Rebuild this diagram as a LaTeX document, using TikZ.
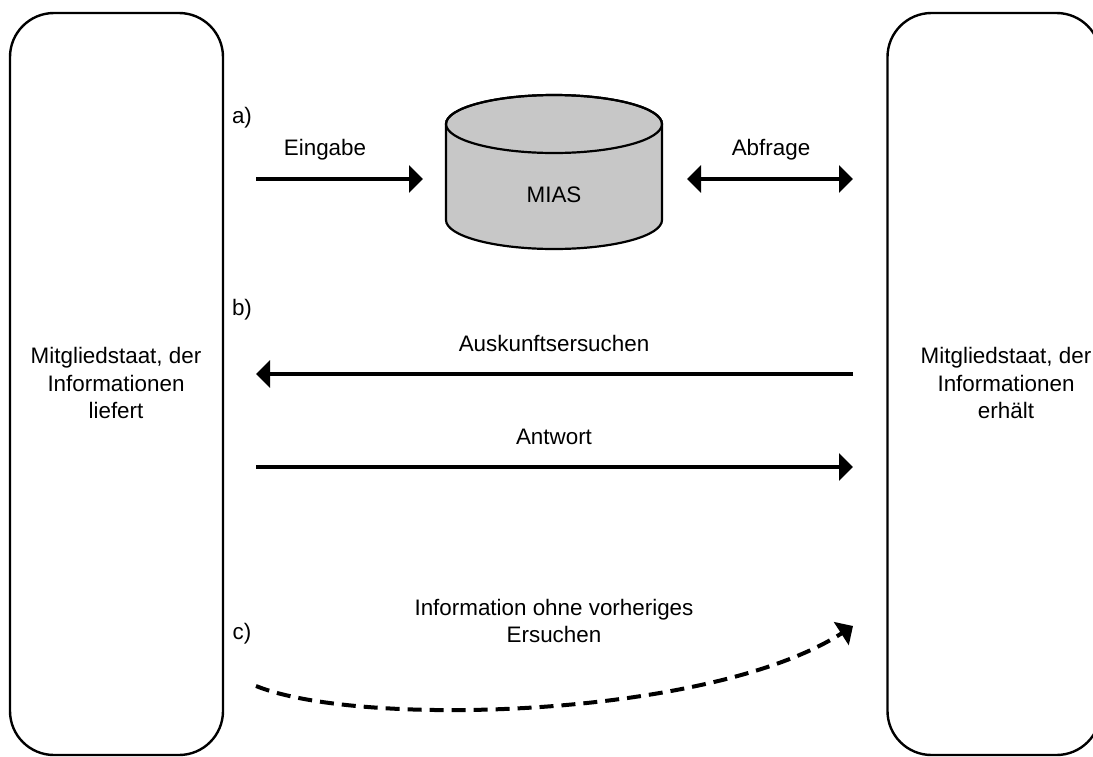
\documentclass[tikz,border=0pt]{standalone}
\usepackage{fontspec}
\setmainfont{Liberation Sans}
\usetikzlibrary{arrows.meta}
\begin{document}
\begin{tikzpicture}[x=0.5pt,y=-0.5pt,
  lbl/.style={font=\fontsize{11.2}{13.75}\selectfont, inner sep=0pt, align=center},
  party/.style={draw, line width=1.2pt, rounded corners=22pt, minimum width=106.5pt, minimum height=371pt, inner sep=0pt},
  flow/.style={line width=1.7pt, -{Triangle[length=7pt,width=13.5pt]}},
  bothflow/.style={line width=1.7pt, {Triangle[length=7pt,width=13.5pt]}-{Triangle[length=7pt,width=13.5pt]}},
  dashflow/.style={line width=2pt, dash pattern=on 7pt off 4pt, -{Triangle[length=7pt,width=13.5pt]}},
  dbfill/.style={fill=black!22, draw, line width=1.1pt}
]
\useasboundingbox (0,0) rectangle (1093,756);
\clip (0,0) rectangle (1093,756);

% member states
\node[party] (left) at (116.5,384) {};
\node[party] (right) at (994,384) {};
\node[lbl] (lefttxt) at (116,383) {Mitgliedstaat, der\\Informationen\\liefert};
\node[lbl] (righttxt) at (1006,383) {Mitgliedstaat, der\\Informationen\\erhält};

% database cylinder
\path[dbfill] (446,124) -- (446,220) arc[start angle=180, end angle=360, x radius=54pt, y radius=14.5pt]
  -- (662,124) arc[start angle=0, end angle=180, x radius=54pt, y radius=14.5pt] -- cycle;
\draw[line width=1.1pt] (554,124) ellipse[x radius=54pt, y radius=14.5pt];
\node[lbl] (mias) at (554,195) {MIAS};

% a)
\node[lbl] (la) at (242,118) {a)};
\coordinate (eA) at (256,179);
\coordinate (eB) at (423,179);
\draw[flow] (eA) -- (eB);
\node[lbl] (eing) at (325,150) {Eingabe};
\coordinate (qA) at (687,179);
\coordinate (qB) at (853,179);
\draw[bothflow] (qA) -- (qB);
\node[lbl] (abf) at (771,150) {Abfrage};

% b)
\node[lbl] (lb) at (242,310) {b)};
\coordinate (rA) at (853,374);
\coordinate (rB) at (256,374);
\draw[flow] (rA) -- (rB);
\node[lbl] (ausk) at (554,343) {Auskunftsersuchen};
\coordinate (aA) at (256,467);
\coordinate (aB) at (853,467);
\draw[flow] (aA) -- (aB);
\node[lbl] (antw) at (554,437) {Antwort};

% c)
\node[lbl] (lc) at (242,634) {c)};
\node[lbl] (info) at (554,621) {Information ohne vorheriges\\Ersuchen};
\coordinate (cA) at (256,686);
\coordinate (cB) at (853,626);
\draw[dashflow] (cA) .. controls (360,728) and (710,718) .. (cB);
\end{tikzpicture}
\end{document}
